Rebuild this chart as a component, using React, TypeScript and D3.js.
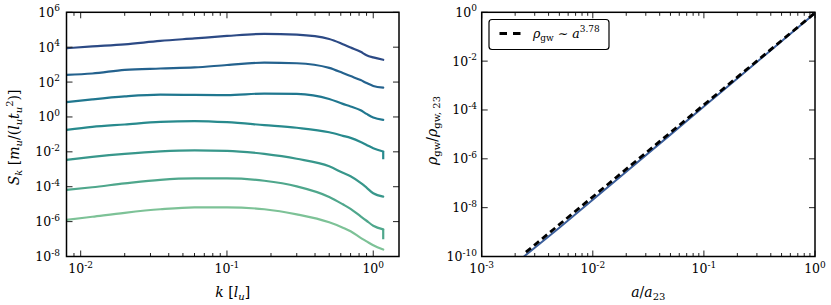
import React, { useEffect } from "react";
import * as d3 from "d3";

// ---------- data ----------
const kValues = [0.008, 0.012, 0.02, 0.035, 0.06, 0.1, 0.18, 0.3, 0.5, 0.62, 0.7, 0.82, 0.9, 1.0, 1.17];
const spectrum1 = [8.7e3, 1.1e4, 1.45e4, 2.3e4, 3.2e4, 4.4e4, 5.8e4, 5.2e4, 2.95e4, 1.48e4, 9.5e3, 5.4e3, 3.5e3, 2.6e3, 1.9e3];
const spectrum2 = [2.6e2, 3.1e2, 5.0e2, 6.0e2, 6.9e2, 9.5e2, 1.3e3, 1.2e3, 6.5e2, 3.3e2, 2.2e2, 1.3e2, 89, 60, 48];
const spectrum3 = [7.1, 10.2, 15, 19, 18.5, 18, 22, 21, 10.7, 5.6, 4.0, 2.4, 1.5, 0.93, 0.68];
const spectrum4 = [0.18, 0.27, 0.37, 0.52, 0.58, 0.5, 0.34, 0.24, 0.132, 0.083, 0.063, 0.037, 0.025, 0.016, 0.0105];
const spectrum5 = [3.5e-3, 5.1e-3, 7.6e-3, 1.05e-2, 1.2e-2, 1.15e-2, 7.6e-3, 4.0e-3, 1.48e-3, 6.3e-4, 4.0e-4, 1.66e-4, 8.9e-5, 4.2e-5, 2.7e-5];
const spectrum6 = [6.6e-5, 9.3e-5, 1.55e-4, 2.5e-4, 3.0e-4, 3.0e-4, 2.2e-4, 1.05e-4, 2.6e-5, 9.8e-6, 5.4e-6, 2.0e-6, 1.12e-6, 5.8e-7, 3.6e-7];
const spectrum7 = [1.26e-6, 1.9e-6, 3.2e-6, 5.1e-6, 6.6e-6, 6.6e-6, 5.1e-6, 2.6e-6, 9.1e-7, 4.5e-7, 2.8e-7, 1.17e-7, 7.4e-8, 4.4e-8, 2.5e-8];
// end drops (last value falls to this value at the last k)
const endDrops: (number | null)[] = [null, null, null, 0.0038, null, 9.8e-8, null];
const spectraColors = ["#2c4a85", "#24628e", "#20778f", "#288a8d", "#38978b", "#4fa78c", "#7dc297"];

const leftXTicks = [0.01, 0.1, 1];
const leftXTickExp = ["-2", "-1", "0"];
const leftYTicks = [1e6, 1e4, 1e2, 1e0, 1e-2, 1e-4, 1e-6, 1e-8];
const leftYTickExp = ["6", "4", "2", "0", "-2", "-4", "-6", "-8"];

const aValues = [0.0024, 0.005, 0.01, 0.02, 0.05, 0.1, 0.2, 0.5, 1.0];
const rhoValues = [1.0e-10, 1.5e-9, 2.1e-8, 2.95e-7, 9.8e-6, 1.38e-4, 1.95e-3, 6.5e-2, 0.91];
const fitA = [0.0025, 1.0];
const fitRho = [1.5e-10, 0.95];

const rightXTicks = [1e-3, 1e-2, 1e-1, 1e0];
const rightXTickExp = ["-3", "-2", "-1", "0"];
const rightYTicks = [1e0, 1e-2, 1e-4, 1e-6, 1e-8, 1e-10];
const rightYTickExp = ["0", "-2", "-4", "-6", "-8", "-10"];

const spectra = [spectrum1, spectrum2, spectrum3, spectrum4, spectrum5, spectrum6, spectrum7];

// ---------- layout ----------
const W = 831, H = 305;
const top = 12.3, bottom = 256.5;
const L = { x0: 66.5, x1: 399 };
const R = { x0: 481.7, x1: 815 };
const FONT = "DejaVu Serif";

function minorTicks(lo: number, hi: number) {
  const out: number[] = [];
  for (let e = Math.floor(Math.log10(lo)); e <= Math.ceil(Math.log10(hi)); e++) {
    for (let m = 2; m <= 9; m++) {
      const v = m * Math.pow(10, e);
      if (v > lo && v < hi) out.push(v);
    }
  }
  return out;
}

function TickLabel({ x, y, exp, anchor }: { x: number; y: number; exp: string; anchor: "middle" | "end" }) {
  return (
    <text x={x} y={y} textAnchor={anchor} fontFamily={FONT} fontSize={12.5} fill="#000">
      10<tspan fontSize={9} dy={-5.5}>{exp}</tspan>
    </text>
  );
}

export default function App() {
  useEffect(() => {
    document.body.style.margin = "0";
  }, []);

  const xL = d3.scaleLog().domain([0.008, 1.5]).range([L.x0, L.x1]);
  const yL = d3.scaleLog().domain([1e-8, 1e6]).range([bottom, top]);
  const xR = d3.scaleLog().domain([1e-3, 1]).range([R.x0, R.x1]);
  const yR = d3.scaleLog().domain([1e-10, 1]).range([bottom, top]);

  const lineL = d3
    .line<[number, number]>()
    .x((d) => xL(d[0]))
    .y((d) => yL(d[1]))
    .curve(d3.curveMonotoneX);

  const lineR = d3
    .line<[number, number]>()
    .x((d) => xR(d[0]))
    .y((d) => yR(d[1]));

  const majorLen = 6, minorLen = 3.5;

  const frame = (x0: number, x1: number) => (
    <rect x={x0} y={top} width={x1 - x0} height={bottom - top} fill="none" stroke="#000" strokeWidth={1.5} />
  );

  const xTickMarks = (scale: any, vals: number[], len: number, key: string) =>
    vals.map((v, i) => (
      <g key={key + i}>
        <line x1={scale(v)} x2={scale(v)} y1={bottom} y2={bottom - len} stroke="#222" strokeWidth={1} />
        <line x1={scale(v)} x2={scale(v)} y1={top} y2={top + len} stroke="#222" strokeWidth={1} />
      </g>
    ));
  const yTickMarks = (scale: any, vals: number[], x0: number, x1: number, key: string) =>
    vals.map((v, i) => (
      <g key={key + i}>
        <line x1={x0} x2={x0 + majorLen} y1={scale(v)} y2={scale(v)} stroke="#222" strokeWidth={1} />
        <line x1={x1} x2={x1 - majorLen} y1={scale(v)} y2={scale(v)} stroke="#222" strokeWidth={1} />
      </g>
    ));

  const lastK = kValues[kValues.length - 1];

  return (
    <svg width={W} height={H} style={{ display: "block" }} xmlns="http://www.w3.org/2000/svg">
      <rect width={W} height={H} fill="#fff" />
      <defs>
        <clipPath id="clipL">
          <rect x={L.x0} y={top} width={L.x1 - L.x0} height={bottom - top} />
        </clipPath>
        <clipPath id="clipR">
          <rect x={R.x0} y={top} width={R.x1 - R.x0} height={bottom - top} />
        </clipPath>
      </defs>
      {/* ---------------- left panel ---------------- */}
      <g clipPath="url(#clipL)">
        {spectra.map((s, i) => {
          const pts = kValues.map((k, j) => [k, s[j]] as [number, number]);
          const drop = endDrops[i];
          return (
            <g key={"sp" + i}>
              <path d={lineL(pts) || ""} fill="none" stroke={spectraColors[i]} strokeWidth={2.2} strokeLinecap="round" />
              {drop !== null && (
                <line
                  x1={xL(lastK)}
                  x2={xL(lastK)}
                  y1={yL(s[s.length - 1])}
                  y2={yL(drop)}
                  stroke={spectraColors[i]}
                  strokeWidth={2.2}
                />
              )}
            </g>
          );
        })}
      </g>
      {xTickMarks(xL, leftXTicks, majorLen, "lxM")}
      {xTickMarks(xL, minorTicks(0.008, 1.5), minorLen, "lxm")}
      {yTickMarks(yL, leftYTicks, L.x0, L.x1, "ly")}
      {frame(L.x0, L.x1)}
      {leftXTicks.map((v, i) => (
        <TickLabel key={"lxl" + i} x={xL(v)} y={273} exp={leftXTickExp[i]} anchor="middle" />
      ))}
      {leftYTicks.map((v, i) => (
        <TickLabel key={"lyl" + i} x={60} y={yL(v) + 4.5} exp={leftYTickExp[i]} anchor="end" />
      ))}
      <text x={(L.x0 + L.x1) / 2} y={297} textAnchor="middle" fontFamily={FONT} fontSize={14} fill="#000">
        <tspan fontStyle="italic">k</tspan> [<tspan fontStyle="italic">l</tspan>
        <tspan fontStyle="italic" fontSize={10} dy={3}>u</tspan>
        <tspan dy={-3}>]</tspan>
      </text>
      <text
        transform={`translate(19,${(top + bottom) / 2 + 3}) rotate(-90)`}
        textAnchor="middle"
        fontFamily={FONT}
        fontSize={14}
        fill="#000"
      >
        <tspan fontStyle="italic">S</tspan>
        <tspan fontStyle="italic" fontSize={10} dy={3}>k</tspan>
        <tspan dy={-3}> [</tspan>
        <tspan fontStyle="italic">m</tspan>
        <tspan fontStyle="italic" fontSize={10} dy={3}>u</tspan>
        <tspan dy={-3}>/(</tspan>
        <tspan fontStyle="italic">l</tspan>
        <tspan fontStyle="italic" fontSize={10} dy={3}>u</tspan>
        <tspan fontStyle="italic" dy={-3}>t</tspan>
        <tspan fontStyle="italic" fontSize={10} dy={3}>u</tspan>
        <tspan fontSize={10} dy={-9}>2</tspan>
        <tspan dy={6}>)]</tspan>
      </text>

      {/* ---------------- right panel ---------------- */}
      <g clipPath="url(#clipR)">
        <path
          d={lineR(aValues.map((a, i) => [a, rhoValues[i]] as [number, number])) || ""}
          fill="none"
          stroke="#3b5e9b"
          strokeWidth={2}
        />
        <path
          d={lineR(fitA.map((a, i) => [a, fitRho[i]] as [number, number])) || ""}
          fill="none"
          stroke="#000"
          strokeWidth={2.8}
          strokeDasharray="6.5,4"
        />
      </g>
      {xTickMarks(xR, rightXTicks, majorLen, "rxM")}
      {xTickMarks(xR, minorTicks(1e-3, 1), minorLen, "rxm")}
      {yTickMarks(yR, rightYTicks, R.x0, R.x1, "ry")}
      {frame(R.x0, R.x1)}
      {rightXTicks.map((v, i) => (
        <TickLabel key={"rxl" + i} x={xR(v)} y={273} exp={rightXTickExp[i]} anchor="middle" />
      ))}
      {rightYTicks.map((v, i) => (
        <TickLabel key={"ryl" + i} x={477} y={yR(v) + 4.5} exp={rightYTickExp[i]} anchor="end" />
      ))}
      <text x={(R.x0 + R.x1) / 2} y={297} textAnchor="middle" fontFamily={FONT} fontSize={14} fill="#000">
        <tspan fontStyle="italic">a</tspan>/<tspan fontStyle="italic">a</tspan>
        <tspan fontSize={10} dy={3}>23</tspan>
      </text>
      <text
        transform={`translate(437,${(top + bottom) / 2 - 4}) rotate(-90)`}
        textAnchor="middle"
        fontFamily={FONT}
        fontSize={14}
        fill="#000"
      >
        <tspan fontStyle="italic">ρ</tspan>
        <tspan fontSize={10} dy={3}>gw</tspan>
        <tspan dy={-3}>/</tspan>
        <tspan fontStyle="italic">ρ</tspan>
        <tspan fontSize={10} dy={3}>gw, 23</tspan>
      </text>

      {/* legend */}
      <rect x={489} y={19.5} width={120} height={30} rx={3} fill="#fff" stroke="#000" strokeWidth={1.2} />
      <line x1={499.5} x2={521} y1={33.5} y2={33.5} stroke="#000" strokeWidth={2.8} strokeDasharray="7.5,6" />
      <text x={533} y={38} fontFamily={FONT} fontSize={12.5} fill="#000">
        <tspan fontStyle="italic">ρ</tspan>
        <tspan fontSize={9} dy={3}>gw</tspan>
        <tspan dy={-3}> ∼ </tspan>
        <tspan fontStyle="italic">a</tspan>
        <tspan fontSize={9} dy={-6}>3.78</tspan>
      </text>
    </svg>
  );
}
